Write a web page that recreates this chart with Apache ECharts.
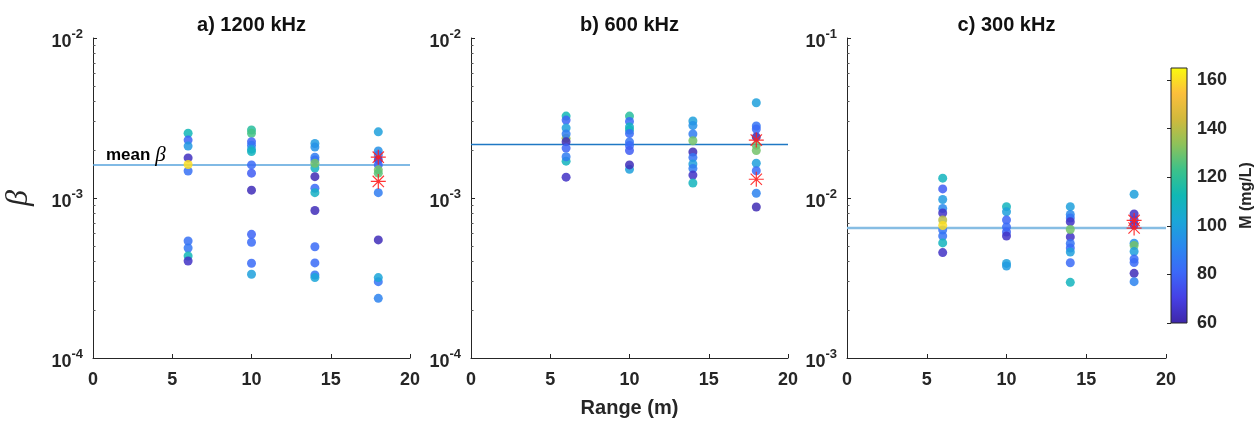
<!DOCTYPE html>
<html><head><meta charset="utf-8">
<script src="https://cdn.jsdelivr.net/npm/echarts@6/dist/echarts.min.js"></script>
<style>html,body{margin:0;padding:0;background:#fff}#c{width:1259px;height:422px}</style>
</head><body><div id="c"></div>
<script>
// ---------------- data ----------------
const panelTitles = ['a) 1200 kHz', 'b) 600 kHz', 'c) 300 kHz'];
const xTitle = 'Range (m)';
const yTitle = 'β';
const cbarTitle = 'M (mg/L)';
const meanLabel = ['mean ', 'β'];
const xRange = [0, 20];
const xInterval = 5;
const yRangeA = [1e-4, 1e-2];
const yRangeB = [1e-4, 1e-2];
const yRangeC = [1e-3, 1e-1];
const cbarRange = [60, 165];
const cbarInterval = 20;

// Panel a) 1200 kHz
const xA = [6,6,6,6,6,6,6,6,6,6,
            10,10,10,10,10,10,10,10,10,10,10,10,10,
            14,14,14,14,14,14,14,14,14,14,14,14,14,14,
            18,18,18,18,18,18,18,18,18,18,18,18];
const betaA = [2.54e-3,2.30e-3,2.11e-3,1.78e-3,1.475e-3,1.62e-3,5.39e-4,4.87e-4,4.34e-4,4.04e-4,
               2.66e-3,2.54e-3,2.25e-3,2.14e-3,2.02e-3,1.95e-3,1.61e-3,1.43e-3,1.12e-3,5.93e-4,5.29e-4,3.91e-4,3.34e-4,
               2.19e-3,2.08e-3,1.80e-3,1.73e-3,1.54e-3,1.65e-3,1.36e-3,1.15e-3,1.08e-3,8.36e-4,4.96e-4,3.93e-4,3.30e-4,3.18e-4,
               2.59e-3,1.97e-3,1.86e-3,1.73e-3,1.61e-3,1.50e-3,1.43e-3,1.08e-3,5.47e-4,3.00e-4,3.18e-4,2.36e-4];
const mA = [112,80,97,64,84,160,84,86,112,65,
            118,124,80,85,100,110,82,78,63,80,82,82,100,
            98,95,88,85,108,130,62,82,108,63,82,82,86,102,
            100,95,85,65,80,130,127,88,63,85,102,90];
const starsA = [1.80e-3, 1.27e-3];
const meanA = 1.607e-3;

// Panel b) 600 kHz
const xB = [6,6,6,6,6,6,6,6,6,6,
            10,10,10,10,10,10,10,10,10,10,
            14,14,14,14,14,14,14,14,14,14,
            18,18,18,18,18,18,18,18,18,18];
const betaB = [2.36e-3,3.25e-3,3.07e-3,2.74e-3,2.51e-3,2.25e-3,2.05e-3,1.70e-3,1.81e-3,1.35e-3,
               3.25e-3,3.01e-3,2.78e-3,2.66e-3,2.53e-3,2.24e-3,2.13e-3,1.98e-3,1.51e-3,1.61e-3,
               3.03e-3,2.84e-3,2.51e-3,2.28e-3,1.94e-3,1.79e-3,1.63e-3,1.53e-3,1.39e-3,1.24e-3,
               3.94e-3,2.82e-3,2.70e-3,2.14e-3,1.98e-3,2.41e-3,1.65e-3,1.48e-3,1.07e-3,8.79e-4];
const mB = [135,112,80,100,88,62,80,110,88,65,
            118,82,108,110,82,85,82,78,100,63,
            100,95,88,130,62,85,100,88,65,110,
            100,85,82,128,130,62,100,82,90,62];
const starsB = [2.30e-3, 1.31e-3];
const meanB = 2.16e-3;

// Panel c) 300 kHz
const xC = [6,6,6,6,6,6,6,6,6,6,6,
            10,10,10,10,10,10,10,10,
            14,14,14,14,14,14,14,14,14,14,14,
            18,18,18,18,18,18,18,18,18,18,18];
const betaC = [1.33e-2,1.14e-2,9.79e-3,8.60e-3,8.06e-3,7.29e-3,6.31e-3,5.79e-3,6.73e-3,5.24e-3,4.56e-3,
               8.83e-3,8.21e-3,7.29e-3,6.59e-3,6.13e-3,5.79e-3,3.90e-3,3.76e-3,
               8.83e-3,7.88e-3,7.50e-3,7.11e-3,5.71e-3,6.36e-3,5.20e-3,4.87e-3,4.60e-3,3.94e-3,2.97e-3,
               1.055e-2,7.94e-3,7.29e-3,6.78e-3,5.21e-3,5.05e-3,4.63e-3,4.16e-3,3.95e-3,3.38e-3,3.00e-3];
const mC = [110,78,98,92,65,140,85,85,160,110,65,
            110,100,80,82,80,65,100,98,
            100,92,85,65,65,130,85,82,100,82,110,
            100,65,70,68,95,130,100,82,82,63,90];
const starsC = [7.24e-3, 6.49e-3];
const meanC = 6.49e-3;
const starRange = 18;

// ---------------- styling ----------------
const FONT = 'Liberation Sans, Arial, sans-serif';
const INK = '#262626';
const parula = [
  [0.00, '#3e26a8'], [0.10, '#4640e5'], [0.20, '#3c68f8'], [0.30, '#2a88ee'],
  [0.40, '#1ba6d8'], [0.50, '#10b8b4'], [0.60, '#3cc28a'], [0.70, '#8ec25a'],
  [0.80, '#d2b93c'], [0.90, '#fcbf3c'], [1.00, '#f9fb0e']
];
const gridsPx = [
  {left: 93, top: 38, width: 317, height: 320},
  {left: 471, top: 38, width: 317, height: 320},
  {left: 847, top: 38, width: 319, height: 320}
];
const lineColors = ['#57a3dc', '#1f78c4', '#86bde3'];
const lineWidths = [1.5, 1.5, 2.5];

const starPath = 'path://M0 9.2H20V10.8H0Z M9.2 0H10.8V20H9.2Z M1.9 3.0L3.0 1.9L18.1 17.0L17.0 18.1Z M17.0 1.9L18.1 3.0L3.0 18.1L1.9 17.0Z';

function zip(xs, ys, ms) { return xs.map((x, i) => [x, ys[i], ms[i]]); }

const logLabel = {
  color: INK, fontFamily: FONT, margin: 10,
  formatter: v => '{b|10}{s|' + Math.round(Math.log10(v)) + '}',
  rich: {
    b: {fontSize: 18, fontWeight: 'bold', color: INK, fontFamily: FONT, padding: [8, 0, 0, 0]},
    s: {fontSize: 13, fontWeight: 'bold', color: INK, fontFamily: FONT, padding: [0, 0, 7, 0]}
  }
};

function xAxisCfg(i) {
  return {
    gridIndex: i, type: 'value', min: xRange[0], max: xRange[1], interval: xInterval,
    axisLine: {show: true, lineStyle: {color: INK, width: 1}},
    axisTick: {show: true, inside: true, length: 4, lineStyle: {color: INK}},
    axisLabel: {color: INK, fontSize: 18, fontWeight: 'bold', fontFamily: FONT, margin: 13},
    splitLine: {show: false}
  };
}
function yAxisCfg(i, range) {
  return {
    gridIndex: i, type: 'log', logBase: 10, min: range[0], max: range[1],
    axisLine: {show: true, lineStyle: {color: INK, width: 1}},
    axisTick: {show: true, inside: true, length: 4, lineStyle: {color: INK}},
    minorTick: {show: true, splitNumber: 9, length: 2.5, lineStyle: {color: '#555'}},
    axisLabel: logLabel,
    splitLine: {show: false}, minorSplitLine: {show: false}
  };
}

const yAxes = [yAxisCfg(0, yRangeA), yAxisCfg(1, yRangeB), yAxisCfg(2, yRangeC)];
Object.assign(yAxes[0], {
  name: yTitle, nameLocation: 'middle', nameGap: 58, nameRotate: 90,
  nameTextStyle: {fontFamily: 'Liberation Serif, serif', fontStyle: 'italic', fontSize: 32, color: INK}
});

const datasets = [zip(xA, betaA, mA), zip(xB, betaB, mB), zip(xC, betaC, mC)];
const means = [meanA, meanB, meanC];
const stars = [starsA, starsB, starsC];

const series = [];
datasets.forEach((d, i) => {
  series.push({
    type: 'scatter', xAxisIndex: i, yAxisIndex: i, data: d,
    symbol: 'circle', symbolSize: 9, itemStyle: {opacity: 0.85}, z: 3
  });
});
stars.forEach((s, i) => {
  series.push({
    type: 'scatter', xAxisIndex: i, yAxisIndex: i,
    data: s.map(v => [starRange, v]),
    symbol: starPath, symbolSize: 15, z: 5,
    itemStyle: {color: '#ff1f1f', opacity: 0.9}
  });
});
means.forEach((m, i) => {
  series.push({
    type: 'line', xAxisIndex: i, yAxisIndex: i, silent: true,
    data: [[xRange[0], m], [xRange[1], m]],
    symbol: 'none', showSymbol: false, z: 2,
    lineStyle: {color: lineColors[i], width: lineWidths[i]}
  });
});
// "mean β" annotation, anchored to the start of the mean line of panel a
series.push({
  type: 'scatter', xAxisIndex: 0, yAxisIndex: 0, silent: true,
  data: [[xRange[0], meanA]], symbolSize: 0, z: 6,
  itemStyle: {color: '#000'},
  label: {
    show: true, position: 'right', distance: 13, offset: [0, -10], color: '#000', opacity: 1,
    formatter: '{m|' + meanLabel[0] + '}{g|' + meanLabel[1] + '}',
    rich: {
      m: {fontFamily: FONT, fontWeight: 'bold', fontSize: 17, color: '#000'},
      g: {fontFamily: 'Liberation Serif, serif', fontStyle: 'italic', fontSize: 21, color: '#000'}
    }
  }
});

const gradient = {
  type: 'linear', x: 0, y: 1, x2: 0, y2: 0,
  colorStops: parula.map(p => ({offset: p[0], color: p[1]}))
};

const option = {
  animation: false,
  backgroundColor: '#fff',
  grid: gridsPx.concat([{left: 1171, top: 68, width: 16, height: 255, show: true,
        backgroundColor: gradient, borderColor: INK, borderWidth: 1}]),
  xAxis: [xAxisCfg(0), xAxisCfg(1), xAxisCfg(2), {gridIndex: 3, type: 'value', show: false, min: 0, max: 1}],
  yAxis: yAxes.concat([{
    gridIndex: 3, type: 'value', position: 'right', min: cbarRange[0], max: cbarRange[1], interval: cbarInterval,
    axisLine: {show: false},
    axisTick: {show: true, inside: true, length: 4, lineStyle: {color: INK}},
    axisLabel: {color: INK, fontSize: 18, fontWeight: 'bold', fontFamily: FONT, margin: 10},
    splitLine: {show: false},
    name: cbarTitle, nameLocation: 'middle', nameRotate: 90, nameGap: 52,
    nameTextStyle: {color: INK, fontSize: 16, fontWeight: 'bold', fontFamily: FONT}
  }]),
  visualMap: {
    type: 'continuous', show: false, seriesIndex: [0, 1, 2], dimension: 2,
    min: cbarRange[0], max: cbarRange[1],
    inRange: {color: parula.map(p => p[1])}
  },
  graphic: panelTitles.map((t, i) => ({
    type: 'text', x: gridsPx[i].left + gridsPx[i].width / 2, y: 25,
    style: {text: t, textAlign: 'center', textVerticalAlign: 'middle',
            font: 'bold 20px ' + FONT, fill: '#111'}
  })).concat([{
    type: 'text', x: gridsPx[1].left + gridsPx[1].width / 2, y: 408,
    style: {text: xTitle, textAlign: 'center', textVerticalAlign: 'middle',
            font: 'bold 20px ' + FONT, fill: INK}
  }]),
  series: series
};

echarts.init(document.getElementById('c')).setOption(option);
</script></body></html>
